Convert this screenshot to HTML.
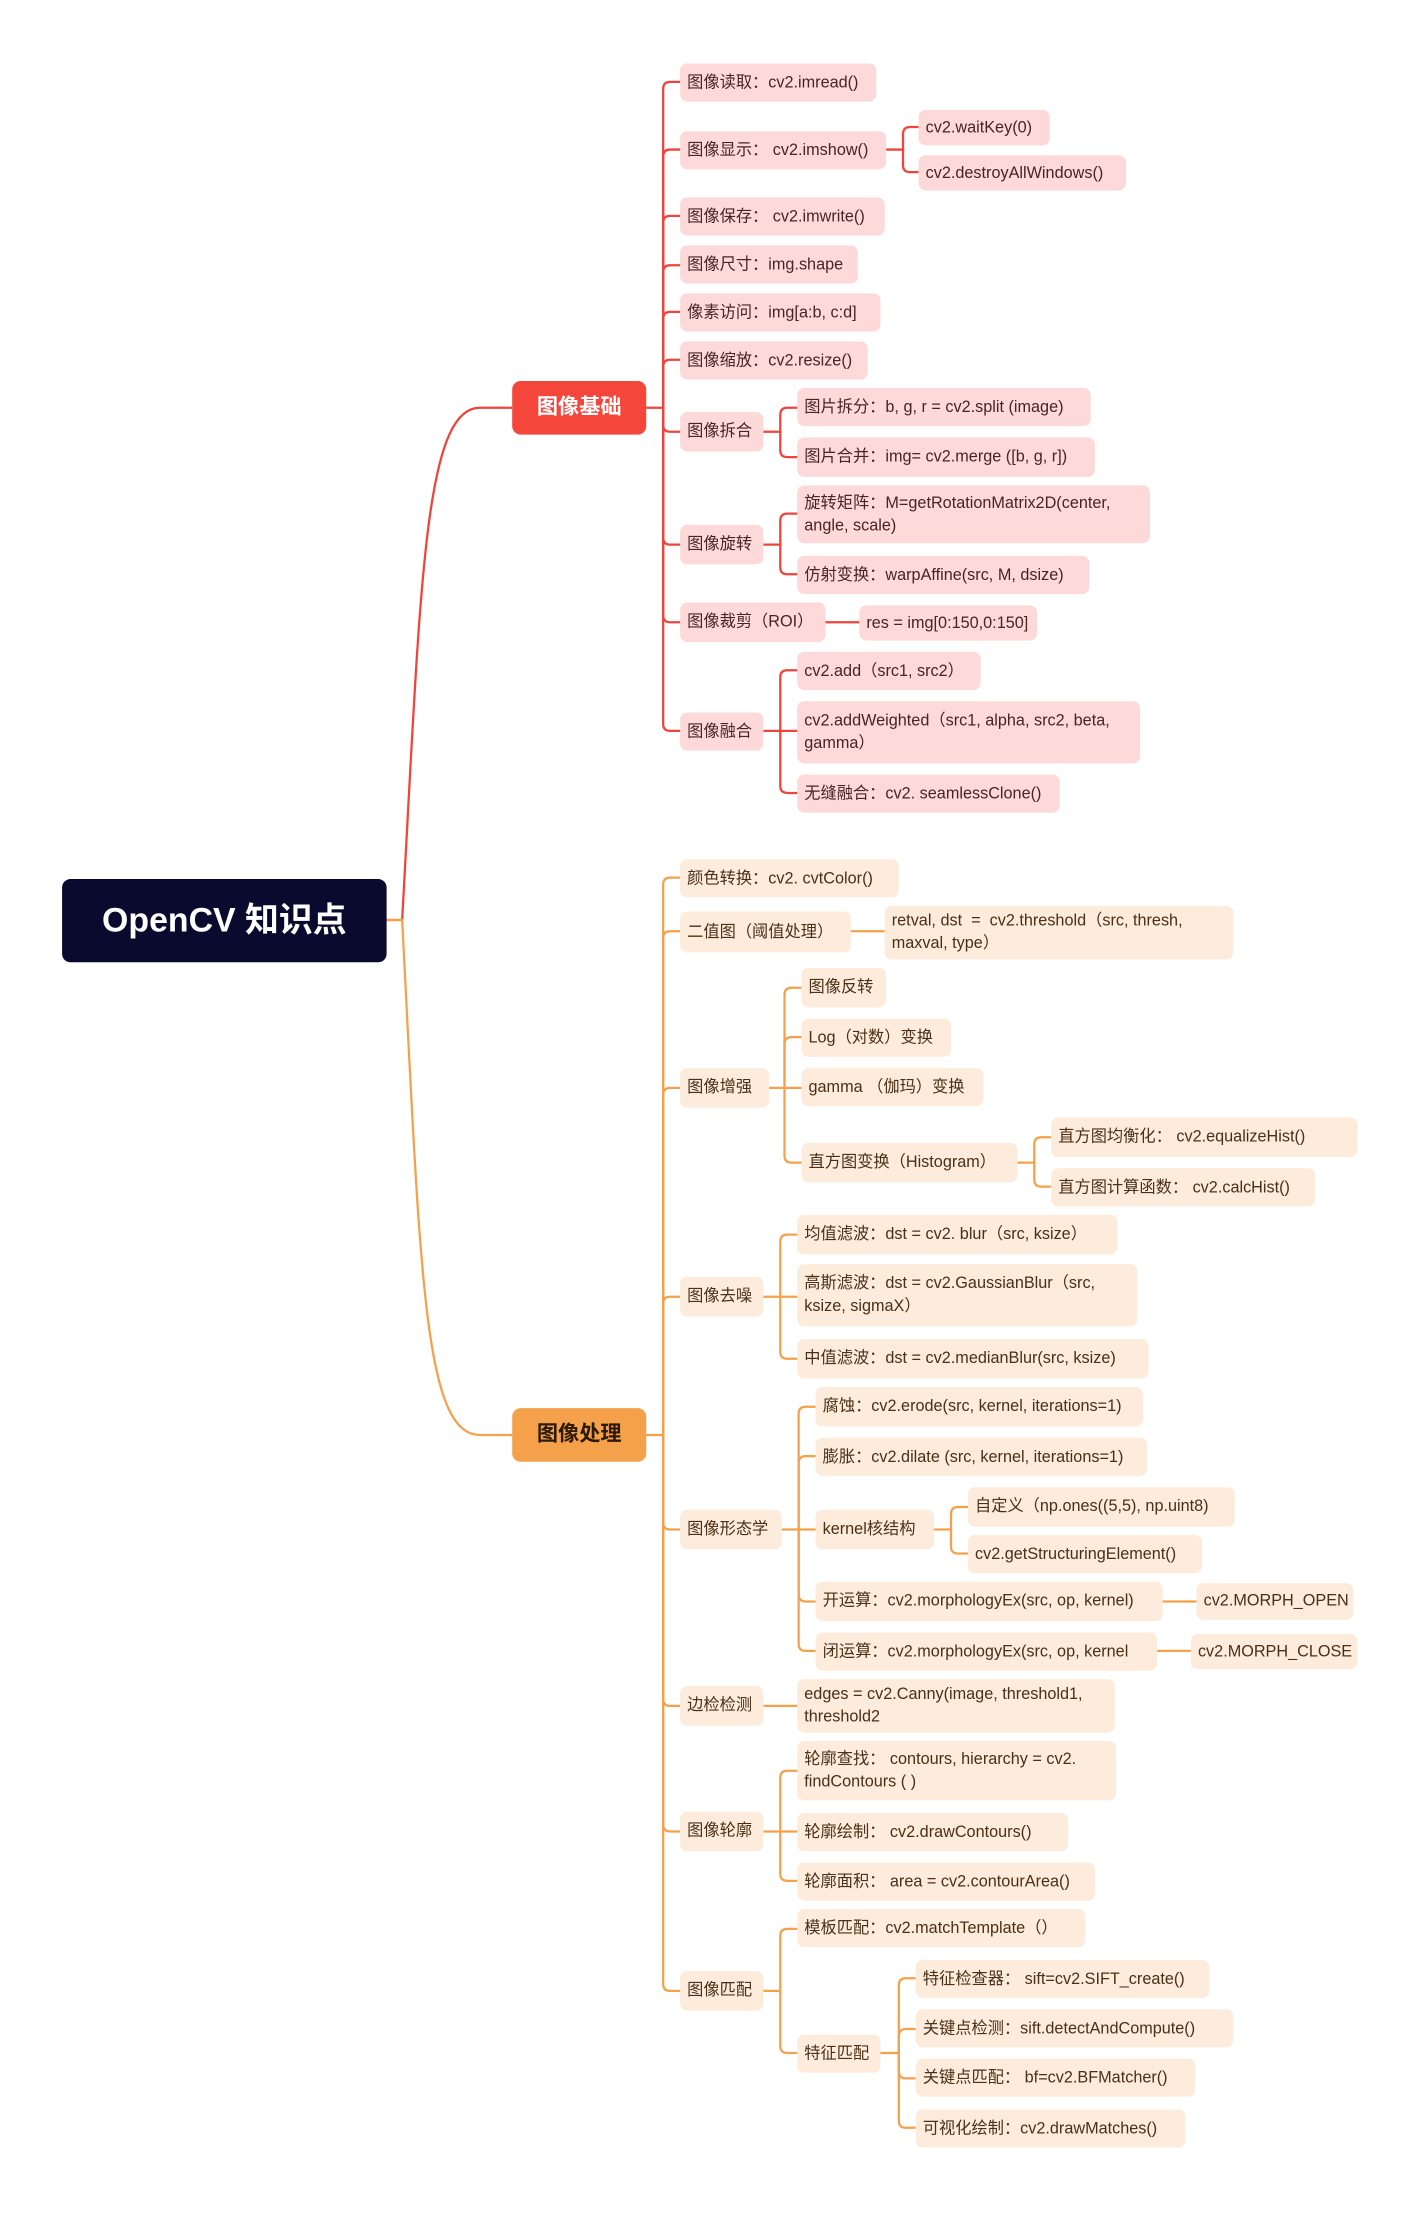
<!DOCTYPE html>
<html><head><meta charset="utf-8"><style>
html,body{margin:0;padding:0;background:#fff;}
body{width:1421px;height:2212px;overflow:hidden;position:relative;}
#w{position:absolute;left:0;top:0;width:1010px;height:1570px;transform:scale(1.411);transform-origin:0 0;font-family:"Liberation Sans","Noto Sans CJK SC",sans-serif;}
.n{position:absolute;box-sizing:border-box;display:flex;align-items:center;padding:0 5px;font-size:11.5px;line-height:16px;border-radius:5px;white-space:nowrap;overflow:hidden;}
.n.m{white-space:normal;}
.r{background:#fdd9d9;color:#4a2424;}
.o{background:#fdebdb;color:#4a3018;}
svg{position:absolute;left:0;top:0;}
</style></head><body><div id="w">
<svg width="1010" height="1570" fill="none" stroke-width="1.6">
<g stroke="#f0433a">
<path d="M274 652 H285 C298 420 300 289 340 289 H363"/>
<path d="M458 289 H470"/>
<path d="M470 289 V63 Q470 58 475 58 H482"/>
<path d="M470 289 V111 Q470 106 475 106 H482"/>
<path d="M470 289 V158 Q470 153 475 153 H482"/>
<path d="M470 289 V193 Q470 188 475 188 H482"/>
<path d="M470 289 V226 Q470 221 475 221 H482"/>
<path d="M470 289 V260 Q470 255 475 255 H482"/>
<path d="M470 289 V301 Q470 306 475 306 H482"/>
<path d="M470 289 V381 Q470 386 475 386 H482"/>
<path d="M470 289 V436 Q470 441 475 441 H482"/>
<path d="M470 289 V513 Q470 518 475 518 H482"/>
<path d="M628 106 H640 V95 Q640 90 645 90 H651"/>
<path d="M640 106 V117 Q640 122 645 122 H651"/>
<path d="M541 306 H553 V294 Q553 289 558 289 H565"/>
<path d="M553 306 V319 Q553 324 558 324 H565"/>
<path d="M541 386 H553 V369 Q553 364 558 364 H565"/>
<path d="M553 386 V402 Q553 407 558 407 H565"/>
<path d="M585 441 H609"/>
<path d="M541 518 H565"/>
<path d="M553 518 V480 Q553 475 558 475 H565"/>
<path d="M553 518 V557 Q553 562 558 562 H565"/>
</g>
<g stroke="#f5a04a">
<path d="M274 652 H285 C298 900 300 1017 340 1017 H363"/>
<path d="M458 1017 H470"/>
<path d="M470 1017 V627 Q470 622 475 622 H482"/>
<path d="M470 1017 V665 Q470 660 475 660 H482"/>
<path d="M470 1017 V776 Q470 771 475 771 H482"/>
<path d="M470 1017 V924 Q470 919 475 919 H482"/>
<path d="M470 1017 V1079 Q470 1084 475 1084 H482"/>
<path d="M470 1017 V1204 Q470 1209 475 1209 H482"/>
<path d="M470 1017 V1293 Q470 1298 475 1298 H482"/>
<path d="M470 1017 V1406 Q470 1411 475 1411 H482"/>
<path d="M603 660 H627"/>
<path d="M545 771 H556 V705 Q556 700 561 700 H568"/>
<path d="M556 771 V740 Q556 735 561 735 H568"/>
<path d="M556 771 H568"/>
<path d="M556 771 V819 Q556 824 561 824 H568"/>
<path d="M721 824 H733 V811 Q733 806 738 806 H745"/>
<path d="M733 824 V836 Q733 841 738 841 H745"/>
<path d="M541 919 H565"/>
<path d="M553 919 V880 Q553 875 558 875 H565"/>
<path d="M553 919 V958 Q553 963 558 963 H565"/>
<path d="M554 1084 H578"/>
<path d="M566 1084 V1002 Q566 997 571 997 H578"/>
<path d="M566 1084 V1037 Q566 1032 571 1032 H578"/>
<path d="M566 1084 V1130 Q566 1135 571 1135 H578"/>
<path d="M566 1084 V1165 Q566 1170 571 1170 H578"/>
<path d="M662 1084 H674 V1073 Q674 1068 679 1068 H686"/>
<path d="M674 1084 V1096 Q674 1101 679 1101 H686"/>
<path d="M824 1135 H848"/>
<path d="M820 1170 H844"/>
<path d="M541 1209 H565"/>
<path d="M541 1298 H565"/>
<path d="M553 1298 V1260 Q553 1255 558 1255 H565"/>
<path d="M553 1298 V1328 Q553 1333 558 1333 H565"/>
<path d="M541 1411 H553 V1372 Q553 1367 558 1367 H565"/>
<path d="M553 1411 V1450 Q553 1455 558 1455 H565"/>
<path d="M624 1455 H637 V1407 Q637 1402 642 1402 H649"/>
<path d="M637 1455 V1443 Q637 1438 642 1438 H649"/>
<path d="M637 1455 V1468 Q637 1473 642 1473 H649"/>
<path d="M637 1455 V1503 Q637 1508 642 1508 H649"/>
</g>
</svg>

<div class="n" style="left:44px;top:623px;width:230px;height:59px;background:#0a0a2e;color:#fff;font-size:24px;font-weight:bold;justify-content:center;border-radius:6px;">OpenCV 知识点</div>
<div class="n" style="left:363px;top:270px;width:95px;height:38px;background:#f5463c;color:#fff;font-size:15px;font-weight:bold;justify-content:center;border-radius:6px;">图像基础</div>
<div class="n" style="left:363px;top:998px;width:95px;height:38px;background:#f5a04a;color:#2a1a08;font-size:15px;font-weight:bold;justify-content:center;border-radius:6px;">图像处理</div>

<div class="n r" style="left:482px;top:45px;width:139px;height:27px">图像读取：cv2.imread()</div>
<div class="n r" style="left:482px;top:93px;width:146px;height:27px">图像显示： cv2.imshow()</div>
<div class="n r" style="left:651px;top:78px;width:93px;height:25px">cv2.waitKey(0)</div>
<div class="n r" style="left:651px;top:110px;width:147px;height:25px">cv2.destroyAllWindows()</div>
<div class="n r" style="left:482px;top:140px;width:145px;height:27px">图像保存： cv2.imwrite()</div>
<div class="n r" style="left:482px;top:174px;width:126px;height:27px">图像尺寸：img.shape</div>
<div class="n r" style="left:482px;top:208px;width:142px;height:27px">像素访问：img[a:b, c:d]</div>
<div class="n r" style="left:482px;top:242px;width:133px;height:27px">图像缩放：cv2.resize()</div>
<div class="n r" style="left:482px;top:292px;width:59px;height:28px">图像拆合</div>
<div class="n r" style="left:565px;top:275px;width:208px;height:27px">图片拆分：b, g, r = cv2.split (image)</div>
<div class="n r" style="left:565px;top:310px;width:211px;height:28px">图片合并：img= cv2.merge ([b, g, r])</div>
<div class="n r" style="left:482px;top:372px;width:59px;height:28px">图像旋转</div>
<div class="n r m" style="left:565px;top:344px;width:250px;height:41px">旋转矩阵：M=getRotationMatrix2D(center, angle, scale)</div>
<div class="n r" style="left:565px;top:394px;width:207px;height:27px">仿射变换：warpAffine(src, M, dsize)</div>
<div class="n r" style="left:482px;top:427px;width:103px;height:28px">图像裁剪（ROI）</div>
<div class="n r" style="left:609px;top:429px;width:126px;height:25px">res = img[0:150,0:150]</div>
<div class="n r" style="left:482px;top:505px;width:59px;height:27px">图像融合</div>
<div class="n r" style="left:565px;top:462px;width:130px;height:27px">cv2.add（src1, src2）</div>
<div class="n r m" style="left:565px;top:497px;width:243px;height:44px">cv2.addWeighted（src1, alpha, src2, beta, gamma）</div>
<div class="n r" style="left:565px;top:549px;width:186px;height:27px">无缝融合：cv2. seamlessClone()</div>

<div class="n o" style="left:482px;top:609px;width:155px;height:27px">颜色转换：cv2. cvtColor()</div>
<div class="n o" style="left:482px;top:646px;width:121px;height:29px">二值图（阈值处理）</div>
<div class="n o m" style="left:627px;top:642px;width:247px;height:38px">retval, dst &nbsp;= &nbsp;cv2.threshold（src, thresh, maxval, type）</div>
<div class="n o" style="left:482px;top:757px;width:63px;height:28px">图像增强</div>
<div class="n o" style="left:568px;top:686px;width:60px;height:28px">图像反转</div>
<div class="n o" style="left:568px;top:722px;width:106px;height:27px">Log（对数）变换</div>
<div class="n o" style="left:568px;top:757px;width:129px;height:27px">gamma （伽玛）变换</div>
<div class="n o" style="left:568px;top:810px;width:153px;height:28px">直方图变换（Histogram）</div>
<div class="n o" style="left:745px;top:792px;width:217px;height:28px">直方图均衡化： cv2.equalizeHist()</div>
<div class="n o" style="left:745px;top:828px;width:187px;height:27px">直方图计算函数： cv2.calcHist()</div>
<div class="n o" style="left:482px;top:905px;width:59px;height:28px">图像去噪</div>
<div class="n o" style="left:565px;top:861px;width:227px;height:28px">均值滤波：dst = cv2. blur（src, ksize）</div>
<div class="n o m" style="left:565px;top:896px;width:241px;height:44px">高斯滤波：dst = cv2.GaussianBlur（src, ksize, sigmaX）</div>
<div class="n o" style="left:565px;top:949px;width:249px;height:28px">中值滤波：dst = cv2.medianBlur(src, ksize)</div>
<div class="n o" style="left:482px;top:1070px;width:72px;height:28px">图像形态学</div>
<div class="n o" style="left:578px;top:983px;width:232px;height:28px">腐蚀：cv2.erode(src, kernel, iterations=1)</div>
<div class="n o" style="left:578px;top:1019px;width:235px;height:27px">膨胀：cv2.dilate (src, kernel, iterations=1)</div>
<div class="n o" style="left:578px;top:1070px;width:84px;height:28px">kernel核结构</div>
<div class="n o" style="left:686px;top:1054px;width:189px;height:28px">自定义（np.ones((5,5), np.uint8)</div>
<div class="n o" style="left:686px;top:1088px;width:166px;height:27px">cv2.getStructuringElement()</div>
<div class="n o" style="left:578px;top:1121px;width:246px;height:28px">开运算：cv2.morphologyEx(src, op, kernel)</div>
<div class="n o" style="left:848px;top:1122px;width:111px;height:26px">cv2.MORPH_OPEN</div>
<div class="n o" style="left:578px;top:1157px;width:242px;height:27px">闭运算：cv2.morphologyEx(src, op, kernel</div>
<div class="n o" style="left:844px;top:1158px;width:118px;height:25px">cv2.MORPH_CLOSE</div>
<div class="n o" style="left:482px;top:1195px;width:59px;height:28px">边检检测</div>
<div class="n o m" style="left:565px;top:1190px;width:225px;height:38px">edges = cv2.Canny(image, threshold1, threshold2</div>
<div class="n o" style="left:482px;top:1284px;width:59px;height:28px">图像轮廓</div>
<div class="n o m" style="left:565px;top:1234px;width:226px;height:42px">轮廓查找： contours, hierarchy = cv2. findContours ( )</div>
<div class="n o" style="left:565px;top:1285px;width:192px;height:27px">轮廓绘制： cv2.drawContours()</div>
<div class="n o" style="left:565px;top:1320px;width:211px;height:27px">轮廓面积： area = cv2.contourArea()</div>
<div class="n o" style="left:482px;top:1397px;width:59px;height:28px">图像匹配</div>
<div class="n o" style="left:565px;top:1353px;width:204px;height:27px">模板匹配：cv2.matchTemplate（）</div>
<div class="n o" style="left:565px;top:1442px;width:59px;height:27px">特征匹配</div>
<div class="n o" style="left:649px;top:1389px;width:208px;height:27px">特征检查器： sift=cv2.SIFT_create()</div>
<div class="n o" style="left:649px;top:1424px;width:225px;height:27px">关键点检测：sift.detectAndCompute()</div>
<div class="n o" style="left:649px;top:1459px;width:198px;height:27px">关键点匹配： bf=cv2.BFMatcher()</div>
<div class="n o" style="left:649px;top:1495px;width:191px;height:27px">可视化绘制：cv2.drawMatches()</div>
</div></body></html>
